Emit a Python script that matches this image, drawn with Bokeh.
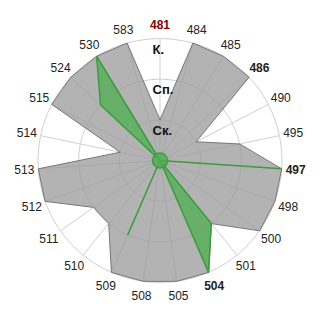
import math
from bokeh.plotting import figure
from bokeh.models import ColumnDataSource
from bokeh.core.properties import value
from bokeh.embed import file_html
from bokeh.resources import INLINE

categories = ["481", "484", "485", "486", "490", "495", "497", "498", "500", "501", "504",
              "505", "508", "509", "510", "511", "512", "513", "514", "515", "524", "530", "583"]
gray_values = [1, 3, 3, 3, 1, 2, 3, 3, 3, 2, 3, 3, 3, 3, 2, 2, 3, 3, 1, 3, 3, 3, 3]
green_values = [0, 0, 0, 0, 0, 0, 3, 0, 0, 2, 3, 0, 0, 2, 0, 0, 0, 0, 0, 0, 2, 3, 0]
bold_categories = ["481", "486", "497", "504"]
highlight_category = "481"
ring_values = [1, 2, 3]
ring_labels = ["Ск.", "Сп.", "К."]

R = 122.0
VMAX = 3.0
n = len(categories)
angles = [2 * math.pi * i / n for i in range(n)]


def pol(v, a):
    r = v * R / VMAX
    return r * math.sin(a), r * math.cos(a)


p = figure(width=320, height=320, x_range=(-159.5, 160.5), y_range=(-160, 160),
           output_backend="svg", toolbar_location=None, min_border=0)
p.axis.visible = False
p.grid.visible = False
p.outline_line_color = None
p.background_fill_color = "white"

# grid rings
for rv in ring_values:
    p.circle(x=[0], y=[0], radius=rv * R / VMAX, fill_color=None, line_color="#d0d0d0", line_width=1)
# spokes
sx = [pol(VMAX, a)[0] for a in angles]
sy = [pol(VMAX, a)[1] for a in angles]
p.segment(x0=[0] * n, y0=[0] * n, x1=sx, y1=sy, line_color="#d0d0d0", line_width=1)

# gray series
gx = [pol(v, a)[0] for v, a in zip(gray_values, angles)]
gy = [pol(v, a)[1] for v, a in zip(gray_values, angles)]
p.patch(gx, gy, fill_color="#9a9a9a", fill_alpha=0.75, line_color="#777777", line_width=1)

# green series
hx = [pol(v, a)[0] for v, a in zip(green_values, angles)]
hy = [pol(v, a)[1] for v, a in zip(green_values, angles)]
p.patch(hx, hy, fill_color="#4caf50", fill_alpha=0.75, line_color="#3c9c3c", line_width=1.5)
p.circle(x=[0], y=[0], radius=7.5, fill_color="#4caf50", fill_alpha=0.8, line_color="#3c9c3c", line_width=1.5)

# category labels
LR = 136.0
lx, ly, colors, styles = [], [], [], []
for c, a in zip(categories, angles):
    lx.append(LR * math.sin(a))
    ly.append(LR * math.cos(a))
    colors.append("#8b0000" if c == highlight_category else "#222222")
    styles.append("bold" if c in bold_categories else "normal")
src = ColumnDataSource(dict(x=lx, y=ly, t=categories, c=colors, s=styles))
p.text(x="x", y="y", text="t", source=src, text_color="c", text_font_style="s",
       text_font_size="12px", text_font=value("Liberation Sans"),
       text_align="center", text_baseline="middle")

# radial labels
p.text(x=[-7.5] * len(ring_values), y=[rv * R / VMAX for rv in ring_values], text=ring_labels,
       text_font=value("Liberation Sans"), text_font_size="13px", text_font_style="bold",
       text_color="#111111", text_align="left", text_baseline="top", y_offset=3)

open("out.html", "w").write(file_html(p, INLINE))
